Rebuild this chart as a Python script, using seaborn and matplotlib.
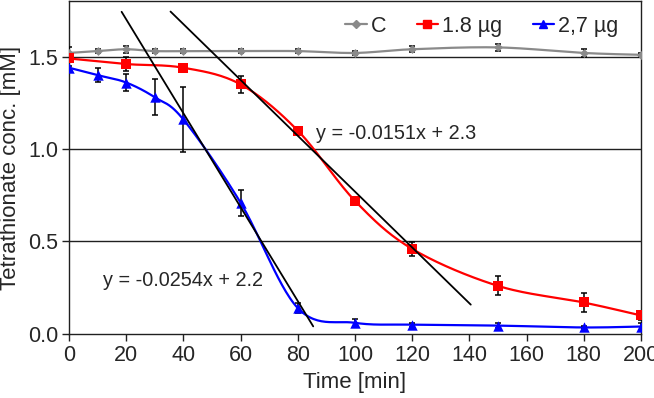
import numpy as np
import pandas as pd
import matplotlib
matplotlib.use("Agg")
import matplotlib.pyplot as plt
from matplotlib.lines import Line2D
import seaborn as sns

sns.set_style("ticks")
plt.rcParams.update({
    "font.family": ["Liberation Sans", "DejaVu Sans"],
    "font.size": 15,
    "axes.labelsize": 16,
    "xtick.labelsize": 15.5,
    "ytick.labelsize": 15.5,
})

# data
time_c = [0, 10, 20, 30, 40, 60, 80, 100, 120, 150, 180, 200]
conc_c = [1.52, 1.53, 1.54, 1.53, 1.53, 1.53, 1.53, 1.52, 1.54, 1.55, 1.52, 1.51]
err_c = [0.03, 0.01, 0.02, 0.01, 0.01, 0.01, 0.01, 0.01, 0.015, 0.02, 0.02, 0.01]

time_18 = [0, 20, 40, 60, 80, 100, 120, 150, 180, 200]
conc_18 = [1.49, 1.46, 1.44, 1.35, 1.10, 0.72, 0.46, 0.26, 0.17, 0.10]
err_18 = [0.02, 0.04, 0.01, 0.045, 0.01, 0.01, 0.036, 0.052, 0.054, 0.025]

time_27 = [0, 10, 20, 30, 40, 60, 80, 100, 120, 150, 180, 200]
conc_27 = [1.44, 1.40, 1.36, 1.28, 1.16, 0.71, 0.14, 0.06, 0.05, 0.045, 0.035, 0.04]
err_27 = [0.01, 0.036, 0.045, 0.097, 0.177, 0.07, 0.025, 0.02, 0.01, 0.015, 0.01, 0.02]

# linear trend lines (slope, intercept, x range)
trend_18 = (-0.0151, 2.28, 35.5, 140.5)
trend_27 = (-0.0254, 2.21, 18.4, 85.4)
label_18 = "y = -0.0151x + 2.3"
label_27 = "y = -0.0254x + 2.2"

series = [
    ("C", time_c, conc_c, err_c, "#8a8a8a", "D", 4.5),
    ("1.8 µg", time_18, conc_18, err_18, "#ff0000", "s", 7),
    ("2,7 µg", time_27, conc_27, err_27, "#0000ff", "^", 7.5),
]


def smooth(xs, ys, n=30):
    # Excel-style smoothed line through the points (Bezier, 1/6 tension)
    p = np.column_stack([xs, ys]).astype(float)
    p = np.vstack([p[0], p, p[-1]])
    out = []
    t = np.linspace(0, 1, n)[:, None]
    for i in range(1, len(p) - 2):
        p0, p1 = p[i], p[i + 1]
        c1 = p0 + (p[i + 1] - p[i - 1]) / 6
        c2 = p1 - (p[i + 2] - p[i]) / 6
        seg = ((1 - t) ** 3) * p0 + 3 * ((1 - t) ** 2) * t * c1 \
            + 3 * (1 - t) * t ** 2 * c2 + t ** 3 * p1
        out.append(seg)
    out = np.vstack(out)
    return out[:, 0], out[:, 1]


fig, ax = plt.subplots(figsize=(6.54, 3.98), dpi=100)
fig.subplots_adjust(left=0.1055, right=0.980, bottom=0.161, top=0.997)

for y in [0.5, 1.0, 1.5]:
    ax.axhline(y, color="#202020", lw=1.0, zorder=1)

handles = []
for i, (name, xs, ys, es, col, mk, ms) in enumerate(series):
    sx, sy = smooth(xs, ys)
    df_line = pd.DataFrame({"x": sx, "y": sy})
    sns.lineplot(data=df_line, x="x", y="y", sort=False, color=col, lw=1.6,
                 ax=ax, zorder=3 + i)
    ax.errorbar(xs, ys, yerr=es, fmt="none", ecolor="black", elinewidth=1.1,
                capsize=2.5, capthick=1.1, zorder=3 + i)
    df_pts = pd.DataFrame({"x": xs, "y": ys})
    sns.scatterplot(data=df_pts, x="x", y="y", marker=mk, color=col,
                    s=ms ** 2, edgecolor=col, linewidth=0, ax=ax, zorder=4 + i)
    handles.append(Line2D([], [], color=col, marker=mk, markersize=ms * 0.8,
                          lw=1.6, label=name))

for slope, icpt, x0, x1 in [trend_18, trend_27]:
    tx = np.array([x0, x1])
    ax.plot(tx, slope * tx + icpt, color="black", lw=1.3, zorder=10)

ax.text(86.4, 1.085, label_18, fontsize=14.3, va="center", ha="left", zorder=11)
ax.text(11.9, 0.29, label_27, fontsize=14.3, va="center", ha="left", zorder=11)

ax.legend(handles=handles, loc="upper right", ncol=3, frameon=False,
          handlelength=1.0, handletextpad=0.2, columnspacing=1.4,
          fontsize=15.5, bbox_to_anchor=(0.995, 1.015))

ax.set_xlim(0, 200)
ax.set_ylim(0, 1.8)
ax.set_xticks(np.arange(0, 201, 20))
ax.set_yticks([0.0, 0.5, 1.0, 1.5])
ax.yaxis.set_major_formatter(matplotlib.ticker.FormatStrFormatter("%.1f"))
ax.set_xlabel("Time [min]", labelpad=4)
ax.set_ylabel("Tetrathionate conc. [mM]", labelpad=5)
for s in ax.spines.values():
    s.set_visible(True)
    s.set_color("#202020")
    s.set_linewidth(1.0)
ax.tick_params(direction="out", length=5, width=1, color="#202020", pad=3)

fig.savefig("out.png", dpi=100)
